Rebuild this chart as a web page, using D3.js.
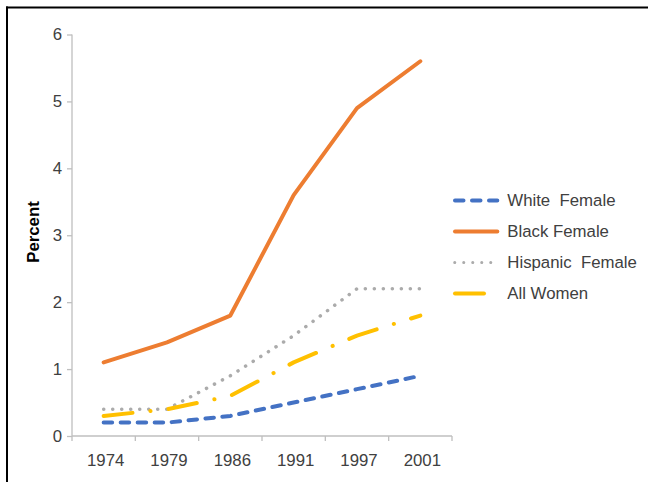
<!DOCTYPE html>
<html>
<head>
<meta charset="utf-8">
<script src="https://cdn.jsdelivr.net/npm/d3@7"></script>
<style>
  html, body { margin: 0; padding: 0; background: #fff; }
  svg { display: block; font-family: "Liberation Sans", Arial, sans-serif; }
</style>
</head>
<body>
<svg id="chart" width="648" height="482"></svg>
<script>
// Survey years along the x axis
const years = ["1974", "1979", "1986", "1991", "1997", "2001"];

// Percent values for each group
const whiteFemale = [0.2, 0.2, 0.3, 0.5, 0.7, 0.9];
const blackFemale = [1.1, 1.4, 1.8, 3.6, 4.9, 5.6];
const hispanicFemale = [0.4, 0.4, 0.9, 1.5, 2.2, 2.2];
const allWomen = [0.3, 0.4, 0.6, 1.1, 1.5, 1.8];

// Legend names (double spaces kept as drawn)
const seriesNames = ["White  Female", "Black Female", "Hispanic  Female", "All Women"];

// Y axis tick values
const yTicks = [0, 1, 2, 3, 4, 5, 6];

const series = [
  { name: seriesNames[0], values: whiteFemale,    color: "#4472C4", width: 4,   dash: "8.5,8.5",        legendDash: "8.5,8.5",    legendWidth: 4 },
  { name: seriesNames[1], values: blackFemale,    color: "#ED7D31", width: 4,   dash: null,             legendDash: null,         legendWidth: 4 },
  { name: seriesNames[2], values: hispanicFemale, color: "#ABABAB", width: 3.5, dash: "0.1,8.9",        legendDash: "0.1,8.9",    legendWidth: 3 },
  { name: seriesNames[3], values: allWomen,       color: "#FFC000", width: 4,   dash: "29,18,0.1,18",   legendDash: "29,18,0.1,18", legendWidth: 4 }
];

const svg = d3.select("#chart");
const textColor = "#404040";
const axisColor = "#BFBFBF";
const fontSize = 16.8;

// Outer frame: top and left rules
svg.append("line").attr("x1", 6).attr("x2", 648).attr("y1", 7.5).attr("y2", 7.5)
  .attr("stroke", "#000").attr("stroke-width", 2);
svg.append("line").attr("x1", 7).attr("x2", 7).attr("y1", 6.5).attr("y2", 482)
  .attr("stroke", "#000").attr("stroke-width", 2);

// Plot area
const plotLeft = 72, plotRight = 452, plotTop = 34.5, plotBottom = 436;

const x = d3.scaleBand().domain(years).range([plotLeft, plotRight]);
const y = d3.scaleLinear().domain([0, 6]).range([plotBottom, plotTop]);

// Y axis
const yAxis = svg.append("g").attr("transform", `translate(${plotLeft},0)`)
  .call(d3.axisLeft(y).tickValues(yTicks).tickSize(5).tickPadding(5).tickFormat(d3.format("d")));
yAxis.select(".domain").attr("stroke", axisColor).attr("stroke-width", 1.3).attr("d", `M0,${plotBottom}V${plotTop}`);
yAxis.selectAll(".tick line").attr("stroke", axisColor).attr("stroke-width", 1.3);
yAxis.selectAll(".tick text").attr("fill", textColor).attr("font-size", fontSize)
  .attr("font-family", "Liberation Sans, Arial, sans-serif");

// X axis with ticks at category boundaries
const xAxis = svg.append("g").attr("transform", `translate(0,${plotBottom})`);
xAxis.append("line").attr("x1", plotLeft).attr("x2", plotRight).attr("y1", 0).attr("y2", 0)
  .attr("stroke", axisColor).attr("stroke-width", 1.3);
const boundaries = years.map(d => x(d)).concat([x(years[years.length - 1]) + x.bandwidth()]);
xAxis.selectAll("line.tick").data(boundaries).enter().append("line")
  .attr("class", "tick")
  .attr("x1", d => d).attr("x2", d => d).attr("y1", 0).attr("y2", 5)
  .attr("stroke", axisColor).attr("stroke-width", 1.3);
xAxis.selectAll("text").data(years).enter().append("text")
  .attr("x", d => x(d) + x.bandwidth() / 2 + 2)
  .attr("y", 30)
  .attr("text-anchor", "middle")
  .attr("fill", textColor).attr("font-size", fontSize)
  .text(d => d);

// Y axis title
svg.append("text")
  .attr("transform", `translate(38.5,232) rotate(-90)`)
  .attr("text-anchor", "middle")
  .attr("font-size", fontSize).attr("font-weight", "bold").attr("fill", "#000")
  .text("Percent");

// Lines
const line = d3.line()
  .x((d, i) => x(years[i]) + x.bandwidth() / 2)
  .y(d => y(d));

series.forEach(s => {
  const p = svg.append("path")
    .datum(s.values)
    .attr("d", line)
    .attr("fill", "none")
    .attr("stroke", s.color)
    .attr("stroke-width", s.width)
    .attr("stroke-linecap", "round")
    .attr("stroke-linejoin", "round");
  if (s.dash) p.attr("stroke-dasharray", s.dash);
});

// Legend
const legend = svg.append("g");
const legendY0 = 200.5, legendStep = 31;
series.forEach((s, i) => {
  const yy = legendY0 + i * legendStep;
  const l = legend.append("line")
    .attr("x1", i === 2 ? 454.7 : 455).attr("x2", 497.3)
    .attr("y1", yy).attr("y2", yy)
    .attr("stroke", s.color)
    .attr("stroke-width", s.legendWidth)
    .attr("stroke-linecap", "round");
  if (s.legendDash) l.attr("stroke-dasharray", s.legendDash);
  legend.append("text")
    .attr("x", 507.3).attr("y", yy)
    .attr("dy", "0.35em")
    .attr("fill", textColor).attr("font-size", fontSize)
    .style("white-space", "pre")
    .text(s.name);
});
</script>
</body>
</html>
